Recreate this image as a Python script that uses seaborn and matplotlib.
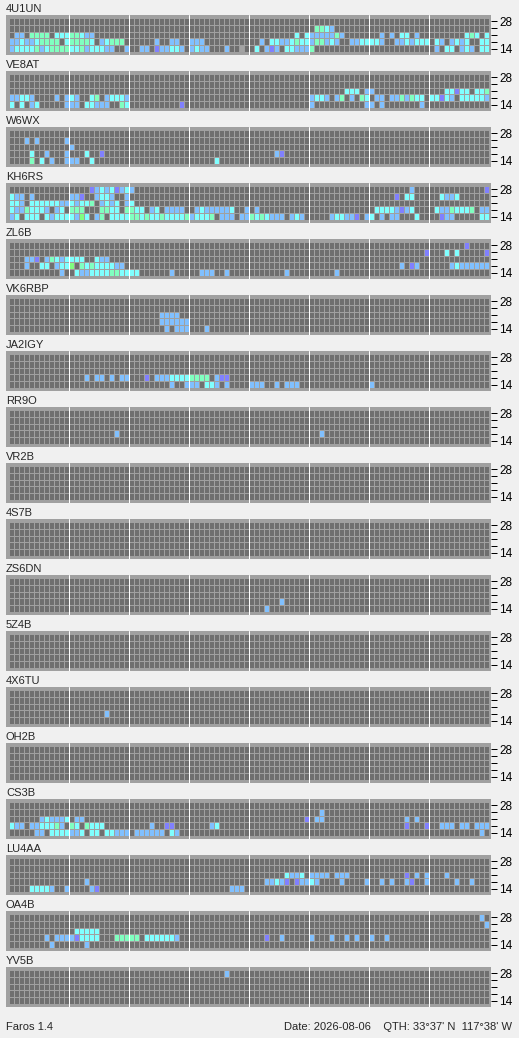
import numpy as np
import pandas as pd
import matplotlib
matplotlib.use("Agg")
import matplotlib.pyplot as plt
import seaborn as sns
from matplotlib.colors import ListedColormap

# Faros beacon monitor: one panel per beacon, 5 bands x 96 quarter-hour slots
STATIONS = ["4U1UN", "VE8AT", "W6WX", "KH6RS", "ZL6B", "VK6RBP", "JA2IGY", "RR9O",
            "VR2B", "4S7B", "ZS6DN", "5Z4B", "4X6TU", "OH2B", "CS3B", "LU4AA",
            "OA4B", "YV5B"]
BANDS = ["28", "24", "21", "18", "14"]
BAND_LABELS = ["28", "", "", "", "14"]
N_SLOTS = 96

# heard slots per band (top = 28 MHz ... bottom = 14 MHz)
# token = slot (or "a-b" run) + level code: p, b, c, g, G ; x = no data
HEARD = {
    "4U1UN": [
        "",
        "61g 62g 63c 64b",
        "1b 2b 4-7g 9-11c 12g 13g 14c 15b 16b 57c 59c 60-64b 65g 66b 74b 76b 78c 79c 81b 91c 92g 93c 95c",
        "0b 1b 2c 3b 4b 5c 6-9g 11c 12-15g 16c 18b 19c 20-22g 29b 32b 33b 36-38b 50b 52c 53c 54b 55b 56c "
        "57g 58c 59c 60b 61g 62g 63b 64c 65b 68b 69b 70-73c 74b 77b 78b 79c 80b 81-83c 85c 86b 88b 89c "
        "90b 91c 94c 95c",
        "0b 1-4c 5g 6b 7c 8-11g 12c 13c 14g 15b 16-18c 19b 20b 23b 26b 27b 29p 30b 31b 32c 33c 34b 36b "
        "37c 38b 39b 43b 46x 49c 51b 52p 53b 55c 56c 57-59b 60g 85b 87c 88c 90b 91c 92b 94c 95c",
    ],
    "VE8AT": [
        "",
        "",
        "67-69c 71b 72b 87c 88c 89p 90c 91c 93c 94c 95g",
        "0b 1b 2c 3c 4b 9b 11b 12c 13b 16c 17g 19b 20-22c 23b 60b 61c 62c 63b 65b 66g 68b 70g 71c 73b "
        "74b 76b 77b 78g 79b 80g 81c 82c 84c 85c 86p 87c 88b 90-94c 95b",
        "0c 2c 4b 5c 11-13b 15c 16c 17-19b 22g 23c 34p 60b 71b 72b 74b 82b",
    ],
    "W6WX": [
        "",
        "3b 5b 11b",
        "12b",
        "4c 7b 11b 15c 18p 53b 54p",
        "4g 6c 8b 11-13b 16c 41c",
    ],
    "KH6RS": [
        "16p 17b 18c 19b 20c 21p 22b 23c 24b 80b 95p",
        "0c 1b 2b 4b 12b 13b 14p 17b 18c 19c 20b 23b 77p 79c 80c 86c 87b 88b 89c",
        "0c 1c 2b 4-9c 10b 11b 12c 13b 14c 15c 16g 18b 19c 20b 21c 23b 24c",
        "0c 1b 2b 3g 4-6c 7b 9b 10c 12-14g 18g 19g 20c 21c 23g 24g 25c 26c 28b 29c 31-34b 37b 38c "
        "39-43b 44c 47b 49b 73-76c 77b 78p 79b 80c 85c 86b 87b 88g 89-91c 92g 94b 95b",
        "0b 1c 3-5c 7c 8b 9-12c 13b 14G 15c 17b 18g 20-23c 24g 25g 26c 27g 28c 29c 30g 31-34c 35g 36b "
        "37-39c 40g 42-44b 46b 47b 48g 49c 50g 51c 52-54b 56b 57c 58b 64b 65c 66c 67b 68b 69p 71b 72c "
        "74b 76b 77b 81c 86p 87b 88b 94c 95c",
    ],
    "ZL6B": [
        "91p",
        "83p 87c 89c 95p",
        "3b 4b 5p 7b 8g 9c 10b 11-14c 17c 18b 19b",
        "3b 6c 7c 9b 10c 11c 12G 14g 15c 16g 17-20c 21b 22b 78b 80p 81b 88b 89c 90-95b",
        "10b 13c 14b 15b 16-19c 20g 21g 22-25c 32b 38-40b 43b 55b 65b",
    ],
    "VK6RBP": ["", "", "30-33b", "30-35b", "31b 33-35b 39b"],
    "JA2IGY": [
        "",
        "",
        "",
        "15b 17b 18b 20b 22b 23b 27p 29-31b 32-35c 36-39g 41b 42p 43p",
        "32b 35-37b 39c 40c 41b 43b 48-50b 53b 55-57b 72b",
    ],
    "RR9O": ["", "", "", "21b 62b", ""],
    "VR2B": ["", "", "", "", ""],
    "4S7B": ["", "", "", "", ""],
    "ZS6DN": ["", "", "", "54b", "51b"],
    "5Z4B": ["", "", "", "", ""],
    "4X6TU": ["", "", "", "19b", ""],
    "OH2B": ["", "", "", "", ""],
    "CS3B": [
        "",
        "62b",
        "6b 7c 8-10b 11c 13b 14b 59p 61b 62b 79b 81b",
        "0c 1b 2b 4b 5b 6-8c 9g 10b 12g 13c 15g 16-18c 28b 31p 32p 40b 41c 79p 83p 86-88b 90b 91b 93-95b",
        "5b 6b 8-11c 12b 13b 14c 16c 17c 19c 20c 21-23b 25-30b 32c 33b 94b",
    ],
    "LU4AA": [
        "",
        "",
        "55c 56b 57b 58c 60-63b 65-67b 79p 81b 83b 87b",
        "15b 51b 52b 53c 54b 55p 57p 58b 59b 60c 61b 66b 71b 74b 76b 79b 80p 83b 89b 92b",
        "4-7c 8b 11b 16b 17p 44-46b",
    ],
    "OA4B": [
        "94b",
        "95b",
        "13-17c",
        "7b 9b 10-12b 13p 14-17c 21-25g 27-32c 33b 51p 54b 60b 64b 67b 69b 72b 75b",
        "8b 15b",
    ],
    "YV5B": ["43b", "", "", "", ""],
}

LEVELS = {"x": 1, "p": 2, "b": 3, "c": 4, "g": 5, "G": 6}
CELL_COLORS = ["#6f6f6f", "#a3a3a3", "#8080ff", "#80c0ff", "#80ffff", "#80ffc0", "#80ff80"]
FRAME = "#a0a0a0"
BG = "#f0f0f0"


def to_grid(rows):
    grid = np.zeros((len(BANDS), N_SLOTS), dtype=int)
    for r, spec in enumerate(rows):
        for tok in spec.split():
            code, span = tok[-1], tok[:-1]
            if "-" in span:
                a, b = map(int, span.split("-"))
            else:
                a = b = int(span)
            grid[r, a:b + 1] = LEVELS[code]
    return pd.DataFrame(grid, index=BANDS, columns=range(N_SLOTS))


sns.set_style("white")
plt.rcParams["font.family"] = ["Liberation Sans", "DejaVu Sans"]

W, H = 519, 1038
fig = plt.figure(figsize=(W / 100, H / 100), dpi=100, facecolor=BG)
cmap = ListedColormap(CELL_COLORS)

for i, name in enumerate(STATIONS):
    top = 15 + 56 * i
    ax = fig.add_axes([6 / W, 1 - (top + 40) / H, 485 / W, 40 / H])
    sns.heatmap(to_grid(HEARD[name]), ax=ax, cmap=cmap, vmin=-0.5, vmax=len(CELL_COLORS) - 0.5,
                cbar=False, linewidths=0.72, linecolor=FRAME,
                xticklabels=False, yticklabels=False)
    ax.set_facecolor(FRAME)
    ax.set_xlim(-0.5, N_SLOTS + 0.5)
    ax.set_ylim(len(BANDS) + 0.36, -0.36)
    # 3-hour separators
    for k in range(12, N_SLOTS, 12):
        ax.axvline(k, color="white", lw=0.72)
    ax.yaxis.tick_right()
    ax.set_yticks(np.arange(len(BANDS)) + 0.5)
    ax.set_yticklabels(BAND_LABELS)
    ax.tick_params(axis="y", length=4, width=0.72, pad=2, labelsize=8.5, colors="black")
    ax.tick_params(axis="x", length=0)
    for sp in ax.spines.values():
        sp.set_visible(False)
    fig.text(6 / W, 1 - (top - 2.5) / H, name, fontsize=8, va="baseline", ha="left")

fig.text(6 / W, 1 - 1029.5 / H, "Faros 1.4", fontsize=8, va="baseline", ha="left")
fig.text(512 / W, 1 - 1029.5 / H, "Date: 2026-08-06    QTH: 33°37' N  117°38' W",
         fontsize=8, va="baseline", ha="right")

fig.savefig("out.png", dpi=100, facecolor=BG)
